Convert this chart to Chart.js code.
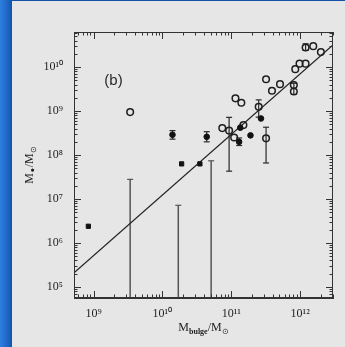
<!DOCTYPE html>
<html>
<head>
<meta charset="utf-8">
<script src="https://cdn.jsdelivr.net/npm/chart.js@4/dist/chart.umd.min.js"></script>
<style>
html,body{margin:0;padding:0;width:345px;height:347px;overflow:hidden;}
body{background:linear-gradient(to right,#2f7fe0 0px,#1c64c4 8px,#1352a8 12px);position:relative;}
#panel{position:absolute;left:12px;top:1px;width:333px;height:346px;background:#e6e6e6;}
#wrap{position:absolute;left:0;top:0;width:345px;height:347px;}
</style>
</head>
<body>
<div id="panel"></div>
<div id="wrap"><canvas id="c" width="345" height="347"></canvas></div>
<script>
// ---- data ----
const filledSquareX = [8.4e8, 1.9e10, 3.5e10];
const filledSquareY = [2.4e6, 6.3e7, 6.3e7];

const filledCircleX = [1.4e10, 4.4e10, 1.3e11, 1.35e11, 1.9e11, 2.7e11];
const filledCircleY = [2.9e8, 2.6e8, 2.0e8, 4.2e8, 2.8e8, 6.8e8];

const openCircleX = [3.4e9, 7.4e10, 9.3e10, 1.1e11, 1.15e11, 1.4e11, 1.5e11, 2.5e11, 3.2e11, 3.2e11,
                     3.9e11, 5.1e11, 8.1e11, 8.1e11, 8.5e11, 9.8e11, 1.2e12, 1.2e12, 1.55e12, 2.0e12];
const openCircleY = [9.5e8, 4.1e8, 3.6e8, 2.5e8, 1.95e9, 1.55e9, 4.8e8, 1.25e9, 2.4e8, 5.3e9,
                     2.9e9, 4.1e9, 3.9e9, 2.8e9, 9.0e9, 1.2e10, 1.2e10, 2.8e10, 3.0e10, 2.2e10];

const errX  = [1.4e10, 4.4e10, 9.3e10, 1.3e11, 2.5e11, 3.2e11, 1.2e12, 8.1e11, 3.4e9, 1.7e10, 5.1e10];
const errLo = [2.3e8, 2.0e8, 4.3e7, 1.65e8, 7.3e8, 6.6e7, 2.4e10, 2.4e9, 1e4, 1e4, 1e4];
const errHi = [3.6e8, 3.4e8, 7.2e8, 2.45e8, 1.8e9, 4.3e8, 3.4e10, 4.3e9, 2.8e7, 7.2e6, 7.4e7];

const fitX = [5.2e8, 3.0e12];
const fitY = [2.1e5, 3.2e10];

const xRange = [5.2e8, 3.0e12];
const yRange = [5.6e4, 6.3e10];
const panelLabel = "(b)";
const panelLabelPos = [1.95e9, 4.8e9];

// ---- helpers ----
const SUP = {'0':'⁰','1':'¹','2':'²','3':'³','4':'⁴','5':'⁵','6':'⁶','7':'⁷','8':'⁸','9':'⁹','-':'⁻'};
function powLabel(v){
  const e = Math.log10(v);
  if (Math.abs(e - Math.round(e)) > 1e-6) return '';
  return '10' + String(Math.round(e)).split('').map(c=>SUP[c]).join('');
}
const ink = '#1e1e1e';
const pts = (xs, ys) => xs.map((x,i)=>({x:x, y:ys[i]}));

const datasets = [];
errX.forEach((x,i)=>{
  datasets.push({
    data:[{x:x,y:errLo[i]},{x:x,y:errHi[i]}],
    showLine:true, borderColor: i>=8 ? '#555' : '#2a2a2a', borderWidth: i>=8 ? 1.5 : 1.2,
    pointStyle:'line', pointRadius:3, pointBorderColor: i>=8 ? '#555' : '#2a2a2a', pointBorderWidth:1.2,
    order:5
  });
});
datasets.push({
  data: pts(fitX, fitY), showLine:true, borderColor:'#222', borderWidth:1.3,
  pointRadius:0, order:4
});
datasets.push({
  data: pts(openCircleX, openCircleY), pointStyle:'circle', pointRadius:3.3,
  pointBackgroundColor:'rgba(0,0,0,0)', pointBorderColor:ink, pointBorderWidth:1.5, order:2
});
datasets.push({
  data: pts(filledCircleX, filledCircleY), pointStyle:'circle', pointRadius:2.8,
  pointBackgroundColor:'#111', pointBorderColor:'#111', pointBorderWidth:1, order:1
});
datasets.push({
  data: pts(filledSquareX, filledSquareY), pointStyle:'rect', pointRadius:3,
  pointBackgroundColor:'#111', pointBorderColor:'#111', pointBorderWidth:1, order:1
});

// inward ticks + frame + titles
const decor = {
  id:'decor',
  afterDraw(chart){
    const ctx = chart.ctx, a = chart.chartArea;
    const xs = chart.scales.x, ys = chart.scales.y;
    ctx.save();
    ctx.strokeStyle = '#333'; ctx.lineWidth = 1;
    ctx.strokeRect(a.left+0.5, a.top+0.5, a.right-a.left-1, a.bottom-a.top-1);
    function ticksOf(s){
      const out = [];
      const e0 = Math.floor(Math.log10(s.min)), e1 = Math.ceil(Math.log10(s.max));
      for (let e=e0; e<=e1; e++) for (let m=1; m<=9; m++){
        const v = m*Math.pow(10,e);
        if (v>=s.min && v<=s.max) out.push({v:v, major:m===1});
      }
      return out;
    }
    ctx.beginPath();
    ticksOf(xs).forEach(t=>{
      const p = Math.round(xs.getPixelForValue(t.v))+0.5, L = t.major?7:3.5;
      ctx.moveTo(p,a.bottom); ctx.lineTo(p,a.bottom-L);
      ctx.moveTo(p,a.top); ctx.lineTo(p,a.top+L);
    });
    ticksOf(ys).forEach(t=>{
      const p = Math.round(ys.getPixelForValue(t.v))+0.5, L = t.major?7:3.5;
      ctx.moveTo(a.left,p); ctx.lineTo(a.left+L,p);
      ctx.moveTo(a.right,p); ctx.lineTo(a.right-L,p);
    });
    ctx.stroke();

    // panel label
    ctx.fillStyle = '#2a2a2a';
    ctx.font = '15px "Liberation Sans", sans-serif';
    ctx.textAlign = 'center'; ctx.textBaseline = 'middle';
    ctx.fillText(panelLabel, xs.getPixelForValue(panelLabelPos[0]), ys.getPixelForValue(panelLabelPos[1]));

    // axis titles with subscripts
    function drawTitle(parts, cx, cy, rot){
      ctx.save();
      ctx.translate(cx, cy); ctx.rotate(rot);
      ctx.textAlign = 'left'; ctx.textBaseline = 'alphabetic';
      let w = 0;
      parts.forEach(p=>{ ctx.font = p.f; w += ctx.measureText(p.t).width; });
      let x = -w/2;
      parts.forEach(p=>{ ctx.font = p.f; ctx.fillText(p.t, x, 4 + p.dy); x += ctx.measureText(p.t).width; });
      ctx.restore();
    }
    const big = '12px "Liberation Serif", serif', small = '8px "Liberation Serif", serif';
    ctx.fillStyle = '#1e1e1e';
    drawTitle([{t:'M',f:big,dy:0},{t:'bulge',f:'bold '+small,dy:2.5},{t:'/M',f:big,dy:0},{t:'⊙',f:small,dy:2.5}],
              (a.left+a.right)/2, 327, 0);
    drawTitle([{t:'M',f:big,dy:0},{t:'•',f:'bold 9px "DejaVu Sans", sans-serif',dy:2.5},{t:'/M',f:big,dy:0},{t:'⊙',f:small,dy:2.5}],
              29, (a.top+a.bottom)/2, -Math.PI/2);
    ctx.restore();
  }
};

new Chart(document.getElementById('c'), {
  type:'scatter',
  data:{datasets:datasets},
  options:{
    responsive:false, animation:false, devicePixelRatio:1,
    layout:{padding:{top:32, right:12, left:0, bottom:0}},
    plugins:{legend:{display:false}, tooltip:{enabled:false}},
    scales:{
      x:{type:'logarithmic', min:xRange[0], max:xRange[1],
         afterFit(s){ s.height = 49; },
         grid:{display:false, drawTicks:false},
         border:{display:true, color:'#333'},
         ticks:{autoSkip:false, maxRotation:0, padding:9, color:'#1e1e1e',
                font:{family:'"Liberation Serif", serif', size:12},
                callback:(v)=>powLabel(v)}},
      y:{type:'logarithmic', min:yRange[0], max:yRange[1],
         afterFit(s){ s.width = 74; },
         grid:{display:false, drawTicks:false},
         border:{display:true, color:'#333'},
         ticks:{autoSkip:false, padding:11, color:'#1e1e1e',
                font:{family:'"Liberation Serif", serif', size:12},
                callback:(v)=>powLabel(v)}}
    }
  },
  plugins:[decor]
});
</script>
</body>
</html>
